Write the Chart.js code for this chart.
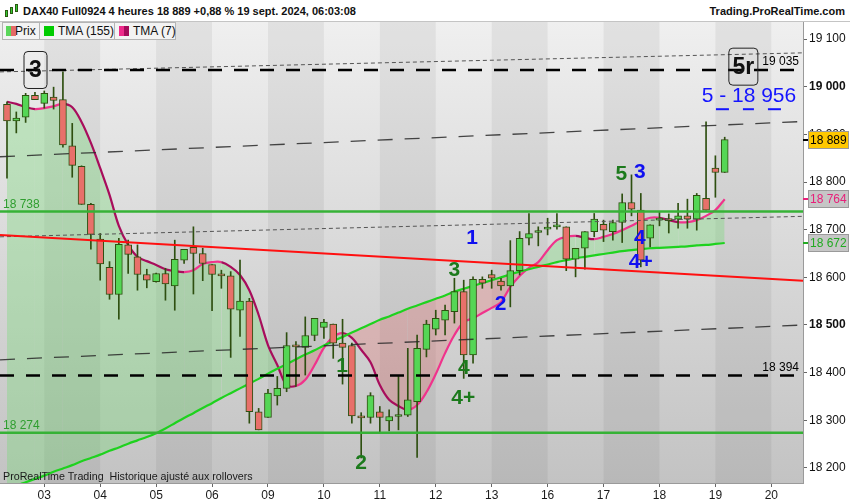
<!DOCTYPE html>
<html>
<head>
<meta charset="utf-8">
<script src="https://cdn.jsdelivr.net/npm/chart.js@4.4.1/dist/chart.umd.min.js"></script>
<style>
html, body { margin: 0; padding: 0; background: #fff; }
#wrap { position: relative; width: 850px; height: 500px; overflow: hidden; font-family: "Liberation Sans", Arial, sans-serif; color: #111; }
#c { position: absolute; left: 0; top: 0; }
#head { position: absolute; left: 0; top: 0; width: 850px; height: 22px; background: #fff; border-bottom: 1px solid #c4c4c4; box-sizing: border-box; font-size: 11px; font-weight: bold; white-space: nowrap; }
#head .t { position: absolute; left: 23px; top: 5px; }
#head .r { position: absolute; right: 5px; top: 5px; }
#icon { position: absolute; left: 5px; top: 4px; width: 14px; height: 14px; }
#icon i { position: absolute; width: 3px; background: #3c3; border: 1px solid #2a5a10; box-sizing: border-box; }
.lg { position: absolute; top: 22px; height: 18px; background: #f3f3f3; border: 1px solid #b4b4b4; box-sizing: border-box; font-size: 12px; line-height: 16px; white-space: nowrap; }
.lg span.sw { position: absolute; top: 3px; width: 10px; height: 10px; }
.lg span.tx { position: absolute; top: 0; }
#foot { position: absolute; left: 3px; top: 470px; font-size: 10.7px; color: #1a1a1a; white-space: nowrap; }
</style>
</head>
<body>
<div id="wrap">
  <canvas id="c" width="850" height="500"></canvas>
  <div id="head">
    <div id="icon"><i style="left:0;top:6px;height:7px"></i><i style="left:5px;top:3px;height:7px"></i><i style="left:10px;top:0;height:8px"></i></div>
    <span class="t">DAX40 Full0924 4 heures 18 889 +0,88 % 19 sept. 2024, 06:03:08</span>
    <span class="r">Trading.ProRealTime.com</span>
  </div>
  <div class="lg" style="left:2px;width:38px"><span class="tx" style="left:12px">Prix</span><span class="sw" style="left:3px;background:linear-gradient(90deg,#5ad65a 50%,#e46a66 50%)"></span></div>
  <div class="lg" style="left:39px;width:76px"><span class="sw" style="left:4px;background:#00cc00"></span><span class="tx" style="left:18px">TMA (155)</span></div>
  <div class="lg" style="left:114px;width:62px"><span class="sw" style="left:4px;background:linear-gradient(90deg,#ee2a8a 50%,#a50a5a 50%)"></span><span class="tx" style="left:18px">TMA (7)</span></div>
  <div id="foot">ProRealTime Trading&nbsp; Historique ajusté aux rollovers</div>
</div>
<script>
// 4h candles, 2 -> 19 sept. 2024
const opens  = [18963,18928,18936,18982,18965,18978,18973,18876,18833,18753,18680,18621,18564,18668,18643,18606,18591,18608,18582,18636,
                18663,18650,18627,18605,18603,18531,18550,18318,18306,18351,18367,18455,18453,18478,18495,18502,18462,18457,18306,18306,
                18318,18299,18308,18311,18339,18449,18491,18510,18528,18570,18437,18596,18606,18592,18582,18614,18682,18694,18701,18706,
                18706,18638,18661,18696,18711,18696,18715,18757,18741,18682,18720,18720,18722,18729,18722,18766,18829,18820];
const highs  = [18968,18947,18986,18988,18991,18999,19031,18923,18834,18755,18692,18633,18682,18678,18668,18617,18609,18619,18678,18659,
                18706,18661,18627,18615,18612,18636,18556,18325,18365,18392,18484,18465,18517,18514,18512,18502,18512,18462,18316,18358,
                18329,18322,18392,18451,18479,18510,18531,18542,18598,18594,18601,18601,18615,18598,18677,18696,18734,18706,18724,18734,
                18706,18661,18696,18734,18720,18720,18775,18815,18776,18710,18737,18733,18755,18764,18776,18926,18855,18894];
const lows   = [18808,18903,18925,18973,18955,18953,18873,18810,18753,18659,18594,18554,18512,18608,18573,18578,18590,18552,18531,18629,
                18565,18593,18530,18577,18432,18476,18294,18280,18306,18332,18360,18371,18395,18467,18472,18430,18376,18294,18221,18294,
                18276,18278,18280,18308,18222,18433,18479,18479,18504,18388,18420,18577,18577,18573,18538,18605,18668,18666,18689,18701,
                18614,18601,18617,18685,18675,18678,18673,18729,18622,18664,18708,18693,18703,18703,18699,18741,18768,18820];
const closes = [18928,18934,18982,18973,18986,18971,18878,18835,18753,18690,18628,18564,18669,18648,18606,18594,18608,18586,18638,18659,
                18650,18629,18606,18603,18533,18550,18318,18280,18357,18367,18457,18454,18478,18514,18506,18462,18453,18309,18305,18352,
                18306,18308,18311,18343,18451,18502,18514,18531,18570,18437,18596,18588,18598,18582,18614,18682,18692,18695,18702,18707,
                18638,18661,18696,18722,18699,18715,18757,18743,18636,18710,18720,18719,18729,18722,18772,18741,18820,18889];
const tma155 = [18155,18163,18170,18177,18184,18192,18199,18206,18214,18221,18228,18236,18243,18251,18258,18265,18273,18283,18294,18305,
                18315,18326,18336,18347,18357,18367,18377,18387,18398,18408,18418,18428,18438,18447,18457,18466,18475,18484,18493,18502,
                18511,18518,18526,18534,18541,18548,18555,18562,18570,18576,18582,18588,18594,18600,18606,18612,18617,18622,18627,18632,
                18636,18640,18643,18646,18649,18652,18655,18657,18659,18661,18662,18663,18664,18665,18667,18668,18670,18672];
const tma7   = [18968,18964,18957,18953,18955,18959,18964,18957,18926,18882,18829,18773,18708,18668,18643,18634,18626,18617,18613,18611,
                18615,18628,18632,18632,18622,18605,18573,18521,18458,18416,18374,18372,18385,18416,18452,18475,18483,18473,18448,18422,
                18374,18343,18330,18322,18332,18359,18397,18441,18479,18506,18514,18525,18536,18548,18580,18603,18620,18632,18657,18678,
                18685,18687,18683,18680,18685,18691,18699,18708,18718,18725,18725,18720,18716,18716,18720,18729,18741,18764];

const dayLabels = ['03','04','05','06','09','10','11','12','13','16','17','18','19','20'];
const dayStart  = [4,10,16,22,28,34,40,46,52,58,64,70,76,82];

// drawn levels and channels (value at left edge, value at right edge)
const blackLevels = [19035, 18394];
const greenLevels = [18738, 18274];
const redTrend    = [18689, 18593];
const dotTop      = [19031, 19071];
const dotBottom   = [18685, 18728];
const dashTop     = [18853, 18927];
const dashBottom  = [18427, 18500];

// wave counts: text, candle index, price
const greenWaveText = ['1','2','3','4','4+','5'];
const greenWaveX    = [35.95, 38.0, 48.0, 49.0, 48.95, 65.9];
const greenWaveY    = [18413, 18211, 18614, 18409, 18346, 18817];
const blueWaveText  = ['1','2','3','4','4+'];
const blueWaveX     = [49.9, 52.95, 67.9, 67.9, 68.0];
const blueWaveY     = [18682, 18544, 18820, 18683, 18631];
const boxText = ['3', '5r'];
const boxX    = [3.06, 79.0];
const boxY    = [19035, 19042];
const targetText = '5 - 18 956';
const targetX = 79.6, targetY = 18980;

const lastPrice = 18889, lastTma7 = 18764, lastTma155 = 18672;

const FONT = '"Liberation Sans", Arial, sans-serif';
const GREEN = '#55d655', RED = '#e8706a', EDGE = '#2e4f10';
const fmt = v => String(Math.round(v)).replace(/\B(?=(\d{3})+(?!\d))/g, ' ');

const idx = opens.map((_, i) => i);
const isUp = i => closes[i] >= opens[i];

const background = {
  id: 'background',
  beforeDraw(chart) {
    const {ctx, chartArea: a, scales: {x}} = chart;
    ctx.save();
    const g = ctx.createLinearGradient(0, a.top, 0, a.bottom);
    g.addColorStop(0, '#efefef');
    g.addColorStop(1, '#c3c3c3');
    ctx.fillStyle = g;
    ctx.fillRect(a.left, a.top, a.width, a.height);
    ctx.fillStyle = 'rgba(0,0,0,0.055)';
    dayStart.forEach((d, k) => {
      if (k % 2) return;
      const x0 = x.getPixelForValue(d);
      const x1 = k + 1 < dayStart.length ? x.getPixelForValue(dayStart[k + 1]) : a.right;
      ctx.fillRect(x0, a.top, Math.min(x1, a.right) - x0, a.height);
    });
    ctx.restore();
  }
};

const overlays = {
  id: 'overlays',
  afterDatasetsDraw(chart) {
    const {ctx, chartArea: a, scales: {x, y}} = chart;
    ctx.save();
    ctx.beginPath();
    ctx.rect(a.left, a.top, a.width, a.height);
    ctx.clip();

    const line = (v0, v1, color, w, dash, x1) => {
      ctx.beginPath();
      ctx.strokeStyle = color;
      ctx.lineWidth = w;
      ctx.setLineDash(dash);
      ctx.moveTo(a.left, y.getPixelForValue(v0));
      ctx.lineTo(x1 ?? a.right, y.getPixelForValue(v1));
      ctx.stroke();
    };
    line(dotTop[0], dotTop[1], '#555', 1, [4, 3]);
    line(dotBottom[0], dotBottom[1], '#555', 1, [4, 3]);
    line(dashTop[0], dashTop[1], 'rgba(40,40,40,0.85)', 1.3, [15, 12]);
    line(dashBottom[0], dashBottom[1], 'rgba(40,40,40,0.85)', 1.3, [15, 12]);
    line(redTrend[0], redTrend[1], '#ff1010', 2, []);
    greenLevels.forEach(v => line(v, v, '#36b236', 2.5, []));
    blackLevels.forEach(v => line(v, v, '#000', 2.5, [14, 12], a.right - 6));

    ctx.setLineDash([]);
    ctx.font = '12px ' + FONT;
    ctx.textBaseline = 'bottom';
    ctx.fillStyle = '#000';
    ctx.textAlign = 'right';
    blackLevels.forEach(v => ctx.fillText(fmt(v), a.right - 4, y.getPixelForValue(v) - 2));
    ctx.fillStyle = '#2f9e2f';
    ctx.textAlign = 'left';
    greenLevels.forEach(v => ctx.fillText(fmt(v), a.left + 3, y.getPixelForValue(v) - 1));

    ctx.textAlign = 'center';
    ctx.textBaseline = 'middle';
    ctx.font = 'bold 21px ' + FONT;
    ctx.fillStyle = '#1c7a1c';
    greenWaveText.forEach((t, k) => ctx.fillText(t, x.getPixelForValue(greenWaveX[k]), y.getPixelForValue(greenWaveY[k])));
    ctx.fillStyle = '#1010f0';
    blueWaveText.forEach((t, k) => ctx.fillText(t, x.getPixelForValue(blueWaveX[k]), y.getPixelForValue(blueWaveY[k])));

    // boxed counts
    boxText.forEach((t, k) => {
      const cx = x.getPixelForValue(boxX[k]), cy = y.getPixelForValue(boxY[k]);
      const w = t.length > 1 ? 29 : 23, h = 37;
      ctx.beginPath();
      ctx.lineWidth = 1;
      ctx.strokeStyle = '#222';
      ctx.roundRect(cx - w / 2, cy - h / 2, w, h, 4);
      ctx.stroke();
      ctx.fillStyle = '#111';
      ctx.font = 'bold 23px ' + FONT;
      ctx.fillText(t, cx, cy + 1);
    });

    // target text with blue underscores
    const tx = x.getPixelForValue(targetX), ty = y.getPixelForValue(targetY);
    ctx.font = '21px ' + FONT;
    ctx.fillStyle = '#1414ff';
    ctx.fillText(targetText, tx, ty);
    [[-33, 13], [-6, 11], [19, 13]].forEach(([o, w]) => ctx.fillRect(tx + o, ty + 12, w, 2));
    ctx.restore();
  },
  afterDraw(chart) {
    const {ctx, chartArea: a, scales: {y}} = chart;
    ctx.save();
    ctx.font = '12px ' + FONT;
    ctx.textBaseline = 'middle';
    ctx.textAlign = 'left';
    const tag = (v, bg, fg, tick) => {
      const py = Math.round(y.getPixelForValue(v));
      ctx.fillStyle = tick;
      ctx.fillRect(a.right, py - 1, 5, 2);
      ctx.fillStyle = bg;
      ctx.fillRect(a.right + 5, py - 9, 41, 18);
      ctx.strokeStyle = '#9a9a9a';
      ctx.lineWidth = 1;
      ctx.strokeRect(a.right + 5.5, py - 8.5, 40, 17);
      ctx.fillStyle = fg;
      ctx.fillText(fmt(v), a.right + 7, py + 1);
    };
    tag(lastPrice, '#ffc800', '#000', '#000');
    tag(lastTma7, '#c6c6c6', '#e8207a', '#e8207a');
    tag(lastTma155, '#c6c6c6', '#22aa22', '#22aa22');
    ctx.restore();
  }
};

new Chart(document.getElementById('c'), {
  data: {
    datasets: [
      {
        type: 'line', label: 'TMA (155)', order: 8,
        data: idx.map(i => ({x: i, y: tma155[i]})),
        borderColor: '#1ed21e', borderWidth: 2.2, pointRadius: 0, tension: 0.3, fill: false
      },
      {
        type: 'line', label: 'TMA (7)', order: 9,
        data: idx.map(i => ({x: i, y: tma7[i]})),
        borderWidth: 2.2, pointRadius: 0, tension: 0.35,
        borderColor: '#ee2a8a',
        segment: { borderColor: c => c.p1.parsed.y >= c.p0.parsed.y ? '#f0338c' : '#a80d5c' },
        fill: { target: 0, above: 'rgba(110,220,110,0.33)', below: 'rgba(228,110,110,0.30)' }
      },
      {
        type: 'bar', label: 'wick', order: 2, grouped: false,
        data: idx.map(i => ({x: i, y: [lows[i], highs[i]]})),
        backgroundColor: EDGE, barThickness: 1, minBarLength: 1
      },
      {
        type: 'bar', label: 'Prix', order: 1, grouped: false,
        data: idx.map(i => ({x: i, y: [opens[i], closes[i]]})),
        backgroundColor: c => isUp(c.dataIndex) ? GREEN : RED,
        borderColor: EDGE, borderWidth: 1, borderSkipped: false,
        barThickness: 7, minBarLength: 2
      }
    ]
  },
  options: {
    responsive: false,
    animation: false,
    layout: { padding: { top: 22, left: 0, right: 0, bottom: 0 } },
    plugins: { legend: { display: false }, tooltip: { enabled: false } },
    scales: {
      x: {
        type: 'linear', min: -0.75, max: 85.4, offset: false,
        afterFit: s => { s.height = 17; },
        afterBuildTicks: s => { s.ticks = dayStart.map(v => ({value: v})); },
        ticks: {
          autoSkip: false, maxRotation: 0, padding: 1,
          color: '#1a1a1a', font: { size: 12, family: FONT },
          callback: v => dayLabels[dayStart.indexOf(v)]
        },
        grid: { drawOnChartArea: false, tickLength: 4, color: '#666', offset: false },
        border: { display: true, color: '#9a9a9a' }
      },
      y: {
        type: 'linear', position: 'right', min: 18168.5, max: 19135.7,
        afterFit: s => { s.width = 47; },
        ticks: {
          stepSize: 100, includeBounds: false, padding: 2,
          color: '#111',
          font: c => ({ size: 12, family: FONT, weight: c.tick && c.tick.value % 500 === 0 ? 'bold' : 'normal' }),
          callback: v => fmt(v)
        },
        grid: { drawOnChartArea: false, tickLength: 4, color: '#666' },
        border: { display: true, color: '#9a9a9a' }
      }
    }
  },
  plugins: [background, overlays]
});
</script>
</body>
</html>
